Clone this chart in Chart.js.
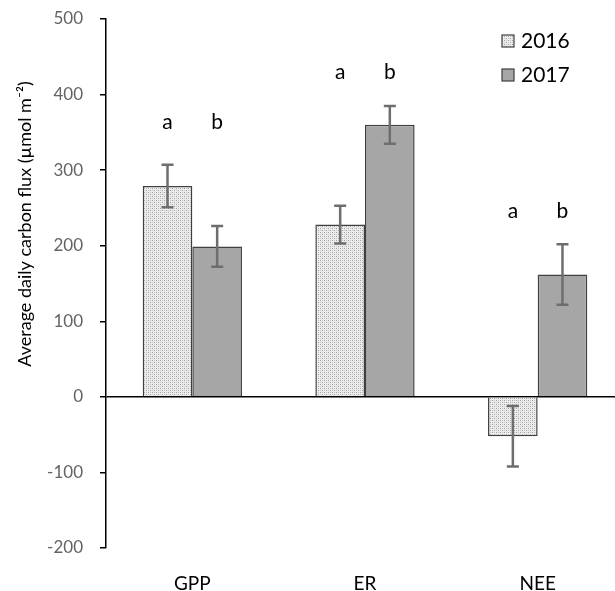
<!DOCTYPE html>
<html lang="en">
<head>
    <meta charset="UTF-8">
    <title>Average daily carbon flux</title>
    <style>
        html, body { margin: 0; padding: 0; background: #fff; overflow: hidden; }
        #wrap { width: 625px; height: 591px; }
    </style>
    <script src="https://cdn.jsdelivr.net/npm/chart.js@4/dist/chart.umd.min.js"></script>
</head>
<body>
    <div id="wrap"><canvas id="fluxChart" width="625" height="591"></canvas></div>
    <script>
        const categories = ['GPP', 'ER', 'NEE'];
        const years = ['2016', '2017'];
        const values2016 = [279, 228, -52];
        const values2017 = [199, 360, 162];
        const err2016 = [28, 25, 40];
        const err2017 = [27, 25, 40];
        const letters2016 = ['a', 'a', 'a'];
        const letters2017 = ['b', 'b', 'b'];
        const letterLevel = [363, 430, 245];
        const yTitle = 'Average daily carbon flux (\u00b5mol m\u207b\u00b2)';

        const fontFam = 'Lato, "Open Sans", sans-serif';

        // stippled fill for 2016
        function dotPattern() {
            const c = document.createElement('canvas');
            c.width = 4; c.height = 4;
            const g = c.getContext('2d');
            g.fillStyle = '#ececec'; g.fillRect(0, 0, 4, 4);
            g.fillStyle = '#a0a0a0';
            g.fillRect(0, 0, 1, 1);
            g.fillRect(2, 2, 1, 1);
            g.fillStyle = '#c8c8c8';
            g.fillRect(2, 0, 1, 1);
            g.fillRect(0, 2, 1, 1);
            return g.createPattern(c, 'repeat');
        }
        const pat = dotPattern();

        const extras = {
            id: 'extras',
            afterDatasetsDraw(chart) {
                const ctx = chart.ctx;
                const y = chart.scales.y;
                const errs = [err2016, err2017];
                const lets = [letters2016, letters2017];
                ctx.save();
                chart.data.datasets.forEach((ds, di) => {
                    const meta = chart.getDatasetMeta(di);
                    meta.data.forEach((bar, i) => {
                        const v = ds.data[i];
                        const top = y.getPixelForValue(v + errs[di][i]);
                        const bot = y.getPixelForValue(v - errs[di][i]);
                        ctx.strokeStyle = '#6e6e6e';
                        ctx.lineWidth = 2.5;
                        ctx.beginPath();
                        ctx.moveTo(bar.x, top); ctx.lineTo(bar.x, bot);
                        ctx.moveTo(bar.x - 6, top); ctx.lineTo(bar.x + 6, top);
                        ctx.moveTo(bar.x - 6, bot); ctx.lineTo(bar.x + 6, bot);
                        ctx.stroke();
                        ctx.fillStyle = '#000';
                        ctx.font = '21px ' + fontFam;
                        ctx.textAlign = 'center';
                        ctx.textBaseline = 'middle';
                        ctx.fillText(lets[di][i], bar.x, y.getPixelForValue(letterLevel[i]));
                    });
                });
                // legend
                const fills = [pat, '#a6a6a6'];
                years.forEach((yr, k) => {
                    const ly = 41 + k * 34;
                    ctx.fillStyle = fills[k];
                    ctx.fillRect(502, ly - 6, 12, 12);
                    ctx.strokeStyle = '#404040';
                    ctx.lineWidth = 1.2;
                    ctx.strokeRect(502, ly - 6, 12, 12);
                    ctx.fillStyle = '#000';
                    ctx.font = '21px ' + fontFam;
                    ctx.textAlign = 'left';
                    ctx.textBaseline = 'middle';
                    ctx.fillText(yr, 521, ly);
                });
                // y axis title (sits above the plot centre, as in the original)
                ctx.translate(25, 224);
                ctx.rotate(-Math.PI / 2);
                ctx.font = '18px ' + fontFam;
                ctx.textAlign = 'center';
                ctx.fillText(yTitle, 0, 0);
                ctx.restore();
            }
        };

        new Chart(document.getElementById('fluxChart'), {
            type: 'bar',
            data: {
                labels: categories,
                datasets: [
                    { label: years[0], data: values2016, backgroundColor: pat, borderColor: '#404040', borderWidth: 1.5 },
                    { label: years[1], data: values2017, backgroundColor: '#a6a6a6', borderColor: '#404040', borderWidth: 1.5 }
                ]
            },
            options: {
                responsive: false,
                animation: false,
                categoryPercentage: 0.575,
                barPercentage: 1,
                layout: { padding: { top: 19, right: 1, bottom: 0, left: 0 } },
                plugins: { legend: { display: false }, tooltip: { enabled: false } },
                scales: {
                    x: {
                        grid: { display: false },
                        border: { display: false },
                        ticks: { color: '#000', font: { size: 19, family: fontFam }, padding: 16 },
                        afterFit: s => { s.height = 43; s.paddingLeft = 0; s.paddingRight = 0; }
                    },
                    y: {
                        min: -200, max: 500,
                        ticks: { stepSize: 100, color: '#636363', font: { size: 17, family: fontFam }, padding: 17 },
                        grid: {
                            color: c => c.tick && c.tick.value === 0 ? '#000' : 'rgba(0,0,0,0)',
                            lineWidth: 1.5,
                            tickColor: '#000',
                            tickLength: 6
                        },
                        border: { color: '#000', width: 1.5 },
                        afterFit: s => { s.width = 106; s.paddingTop = 0; s.paddingBottom = 0; }
                    }
                }
            },
            plugins: [extras]
        });
    </script>
</body>
</html>
